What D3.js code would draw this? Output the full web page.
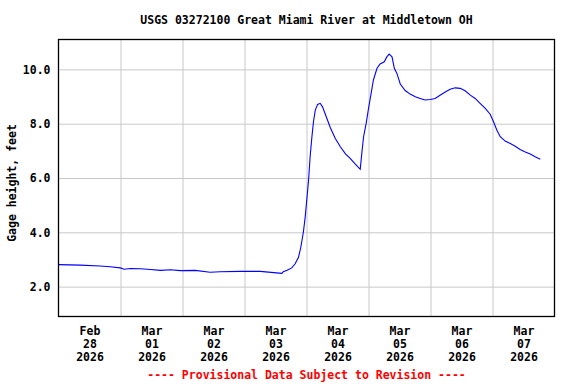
<!DOCTYPE html>
<html>
<head>
<meta charset="utf-8">
<script src="https://cdn.jsdelivr.net/npm/d3@7"></script>
<style>
  body { margin: 0; background: #fff; }
  text { font-family: "DejaVu Sans Mono", monospace; font-weight: bold; }
</style>
</head>
<body>
<div id="chart"></div>
<script>
// hours after Feb 28 2026 00:00 and gage height (ft)
var hours = [0, 8.4, 16.1, 20, 23.9, 25.4, 27.8, 31.7, 35.6, 39.5, 43.4, 47.1, 52.9, 58.7, 62.6, 70.3, 78.1,
  86.5, 87, 88.5, 90.3, 91.6, 92.9, 93.8, 94.8, 95.5, 96.2, 96.8, 97.4, 98.1, 98.7, 99.4, 100.3, 101.3,
  102.2, 103.9, 105.2, 107.1, 109.1, 111.0, 112.9, 114.9, 116.8, 117.4, 118.1, 119.1, 120.0, 120.9,
  121.9, 123.3, 124.5, 126.1, 127.1, 128.0, 129.1, 130.0, 131.0, 132.3, 134.2, 136.1, 138.1, 140.0,
  141.9, 143.9, 145.8, 147.7, 149.7, 151.6, 153.6, 155.5, 157.4, 159.4, 161.3, 163.2, 165.2, 167.1,
  168.4, 169.7, 171.0, 172.9, 174.9, 176.8, 178.7, 180.7, 182.6, 184.5, 186.5];
var gage = [2.81, 2.79, 2.76, 2.73, 2.69, 2.64, 2.67, 2.66, 2.63, 2.60, 2.62, 2.59, 2.60, 2.53, 2.55, 2.56, 2.56,
  2.49, 2.55, 2.60, 2.69, 2.84, 3.08, 3.45, 4.01, 4.57, 5.30, 5.92, 6.78, 7.52, 8.07, 8.50, 8.71, 8.75,
  8.62, 8.19, 7.86, 7.46, 7.15, 6.90, 6.72, 6.51, 6.32, 6.90, 7.52, 8.01, 8.56, 9.05,
  9.61, 10.04, 10.20, 10.28, 10.46, 10.56, 10.46, 10.04, 9.85, 9.46, 9.22, 9.09, 8.99, 8.93,
  8.87, 8.89, 8.93, 9.05, 9.17, 9.27, 9.32, 9.30, 9.21, 9.05, 8.93, 8.75, 8.56, 8.35,
  8.07, 7.76, 7.52, 7.36, 7.27, 7.17, 7.05, 6.96, 6.88, 6.78, 6.69];

var yTicks = [2, 4, 6, 8, 10];
var dayMonths = ["Feb", "Mar", "Mar", "Mar", "Mar", "Mar", "Mar", "Mar"];
var dayNums = ["28", "01", "02", "03", "04", "05", "06", "07"];
var dayYears = ["2026", "2026", "2026", "2026", "2026", "2026", "2026", "2026"];

var title = "USGS 03272100 Great Miami River at Middletown OH";
var yLabel = "Gage height, feet";
var footer = "---- Provisional Data Subject to Revision ----";

var start = Date.UTC(2026, 1, 28);
var hourMs = 3600 * 1000;
var data = hours.map(function(h, i) { return { date: new Date(start + h * hourMs), v: gage[i] }; });

var W = 576, H = 384;
// plot box edges (window.top is reserved, so use prefixed names)
var pLeft = 58.5, pRight = 554.5, pTop = 39.5, pBottom = 316.5;

var svg = d3.select("#chart").append("svg").attr("width", W).attr("height", H);

var x = d3.scaleUtc().domain([new Date(start), new Date(start + 8 * 24 * hourMs)]).range([pLeft, pRight]);
var y = d3.scaleLinear().domain([0.9, 11.1]).range([pBottom, pTop]);

// horizontal grid
svg.append("g")
  .attr("transform", "translate(" + pLeft + ",0)")
  .call(d3.axisLeft(y).tickValues(yTicks).tickSize(-(pRight - pLeft)).tickFormat(""))
  .call(function(g) { g.select(".domain").remove(); })
  .selectAll("line").attr("stroke", "#c8c8c8");

// vertical grid at midnight
var midnights = d3.range(1, 8).map(function(d) { return new Date(start + d * 24 * hourMs); });
svg.append("g")
  .attr("transform", "translate(0," + pBottom + ")")
  .call(d3.axisBottom(x).tickValues(midnights).tickSize(-(pBottom - pTop)).tickFormat(""))
  .call(function(g) { g.select(".domain").remove(); })
  .selectAll("line").attr("stroke", "#c8c8c8");

// data line
svg.append("path")
  .datum(data)
  .attr("fill", "none")
  .attr("stroke", "#0000ff")
  .attr("stroke-width", 1.1)
  .attr("d", d3.line().x(function(d) { return x(d.date); }).y(function(d) { return y(d.v); }));

// plot frame
svg.append("rect")
  .attr("x", pLeft).attr("y", pTop)
  .attr("width", pRight - pLeft).attr("height", pBottom - pTop)
  .attr("fill", "none").attr("stroke", "#000").attr("stroke-width", 1.3);

// y tick labels
svg.append("g")
  .attr("transform", "translate(" + pLeft + ",0)")
  .call(d3.axisLeft(y).tickValues(yTicks).tickSize(0).tickPadding(8).tickFormat(d3.format(".1f")))
  .call(function(g) { g.select(".domain").remove(); })
  .selectAll("text")
  .attr("font-size", "11.5px")
  .attr("font-family", "DejaVu Sans Mono")
  .attr("fill", "#000");

// x tick labels at noon, three lines each
var noons = d3.range(0, 8).map(function(d) { return new Date(start + (d * 24 + 12) * hourMs); });
var xl = svg.append("g")
  .attr("transform", "translate(0," + pBottom + ")")
  .call(d3.axisBottom(x).tickValues(noons).tickSize(0).tickFormat(""));
xl.select(".domain").remove();
xl.selectAll(".tick text").remove();
xl.selectAll(".tick").append("text")
  .attr("text-anchor", "middle")
  .attr("font-size", "11.5px")
  .attr("fill", "#000")
  .each(function(d, i) {
    var t = d3.select(this);
    t.append("tspan").attr("x", 0).attr("y", 18).text(dayMonths[i]);
    t.append("tspan").attr("x", 0).attr("y", 31).text(dayNums[i]);
    t.append("tspan").attr("x", 0).attr("y", 44).text(dayYears[i]);
  });

svg.append("text")
  .attr("x", (pLeft + pRight) / 2).attr("y", 24)
  .attr("text-anchor", "middle").attr("font-size", "11.5px").attr("fill", "#000")
  .text(title);

svg.append("text")
  .attr("transform", "translate(16," + 183 + ") rotate(-90)")
  .attr("text-anchor", "middle").attr("font-size", "11.5px").attr("fill", "#000")
  .text(yLabel);

svg.append("text")
  .attr("x", (pLeft + pRight) / 2).attr("y", 379)
  .attr("text-anchor", "middle").attr("font-size", "11.5px").attr("fill", "#ff0000")
  .text(footer);
</script>
</body>
</html>
